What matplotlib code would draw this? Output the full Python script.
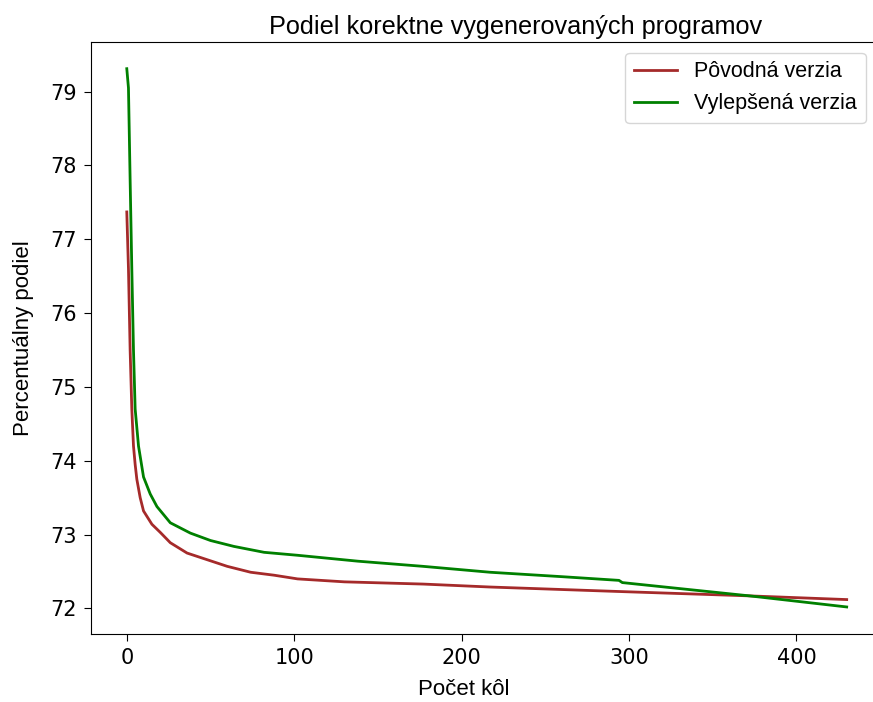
import numpy as np
import matplotlib
matplotlib.use('Agg')
import matplotlib.pyplot as plt

plt.rcParams['font.family'] = ['Liberation Sans', 'DejaVu Sans']
plt.rcParams['font.size'] = 16

# original version
x_orig = [0, 1, 2, 3, 4, 5, 6, 8, 10, 15, 20, 26, 36, 48, 60, 74, 88, 102,
          130, 177, 217, 293, 372, 430]
y_orig = [77.37, 76.6, 75.5, 74.7, 74.2, 73.95, 73.75, 73.5, 73.32, 73.14,
          73.03, 72.89, 72.75, 72.66, 72.57, 72.49, 72.45, 72.40, 72.36,
          72.33, 72.29, 72.23, 72.17, 72.12]

# improved version
x_impr = [0, 1, 2, 3, 4, 5, 7, 10, 14, 18, 26, 38, 50, 64, 82, 102, 138,
          177, 217, 260, 294, 296, 372, 430]
y_impr = [79.31, 79.05, 77.8, 76.6, 75.5, 74.7, 74.2, 73.78, 73.55, 73.38,
          73.16, 73.02, 72.92, 72.84, 72.76, 72.72, 72.64, 72.57, 72.49,
          72.43, 72.38, 72.35, 72.17, 72.02]

fig = plt.figure(figsize=(8.73, 7.02), dpi=100)
# axes runs just past the right edge of the figure, as in the reference
ax = fig.add_axes([0.104, 0.097, 0.900, 0.843])
ax.plot(x_orig, y_orig, color='#a52a2a', lw=2, label='Pôvodná verzia')
ax.plot(x_impr, y_impr, color='green', lw=2, label='Vylepšená verzia')

ax.set_xlim(-21.5, 447.8)
ax.set_ylim(71.655, 79.67)
ax.set_xticks([0, 100, 200, 300, 400])
ax.set_yticks([72, 73, 74, 75, 76, 77, 78, 79])
ax.tick_params(length=5, pad=5)
for lab in ax.get_xticklabels() + ax.get_yticklabels():
    lab.set_fontfamily('DejaVu Sans')
    lab.set_fontsize(15)
ax.set_title('Podiel korektne vygenerovaných programov', fontsize=18.2, x=0.54)
ax.set_xlabel('Počet kôl', x=0.475, labelpad=8)
ax.set_ylabel('Percentuálny podiel', labelpad=12)
ax.legend(loc='upper right', fontsize=15.5)

fig.savefig('out.png', dpi=100)
